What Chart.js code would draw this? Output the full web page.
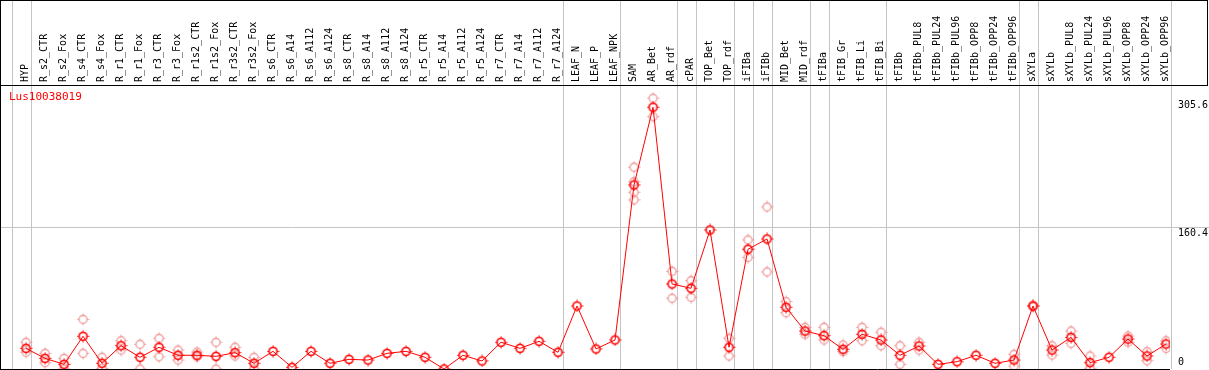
<!DOCTYPE html>
<html>
<head>
<meta charset="utf-8">
<script src="https://cdn.jsdelivr.net/npm/chart.js@4.4.1/dist/chart.umd.min.js"></script>
<style>
  html, body { margin: 0; padding: 0; background: #fff; }
  #wrap { width: 1209px; height: 370px; }
</style>
</head>
<body>
<div id="wrap"><canvas id="chart"></canvas></div>
<script>
const categories = ['HYP', 'R_s2_CTR', 'R_s2_Fox', 'R_s4_CTR', 'R_s4_Fox', 'R_r1_CTR', 'R_r1_Fox',
    'R_r3_CTR', 'R_r3_Fox', 'R_r1s2_CTR', 'R_r1s2_Fox', 'R_r3s2_CTR', 'R_r3s2_Fox',
    'R_s6_CTR', 'R_s6_A14', 'R_s6_A112', 'R_s6_A124', 'R_s8_CTR', 'R_s8_A14', 'R_s8_A112', 'R_s8_A124',
    'R_r5_CTR', 'R_r5_A14', 'R_r5_A112', 'R_r5_A124', 'R_r7_CTR', 'R_r7_A14', 'R_r7_A112', 'R_r7_A124',
    'LEAF_N', 'LEAF_P', 'LEAF_NPK', 'SAM', 'AR_Bet', 'AR_rdf', 'cPAR', 'TOP_Bet', 'TOP_rdf',
    'iFIBa', 'iFIBb', 'MID_Bet', 'MID_rdf', 'tFIBa', 'tFIB_Gr', 'tFIB_Li', 'tFIB_Bi', 'tFIBb',
    'tFIBb_PUL8', 'tFIBb_PUL24', 'tFIBb_PUL96', 'tFIBb_OPP8', 'tFIBb_OPP24', 'tFIBb_OPP96',
    'sXYLa', 'sXYLb', 'sXYLb_PUL8', 'sXYLb_PUL24', 'sXYLb_PUL96', 'sXYLb_OPP8', 'sXYLb_OPP24', 'sXYLb_OPP96'];

// mean expression
const meanValues = [23.5, 12.1, 5.3, 37.2, 6.5, 26.5, 13.3, 24.7, 15.6, 15.6, 14.4, 18.6, 6.5,
    20.1, 1.9, 20.1, 6.5, 11, 10.2, 17.8, 20.1, 13.3, 0, 15.6, 9.1, 30.4, 23.5, 31.5, 19,
    71.7, 22.8, 33, 209.3, 297.7, 96.7, 91.8, 158.1, 24.7, 136.2, 147.9, 70.2, 43.2, 37.9,
    22.4, 39.5, 33, 15.6, 26.2, 5.3, 8.3, 15.6, 6.5, 10.2, 71.7, 21.6, 36, 7.2, 13.3, 34.1, 14.8, 28.4];

// replicates (null = not shown)
const rep1 = [30.4, 17.8, 12.1, 56.5, 13.3, 32.2, 28.1, 34.9, 21.6, 19.3, 30.4, 24.7, 13.3,
    null, null, null, null, null, null, null, null, null, null, null, null, null, null, null, null,
    null, null, null, 229.5, 308, 111.1, 100.5, null, 34.9, 146.8, 184.3, 76.6, 47.4, 47.4,
    27.3, 47.4, 41.8, 26.5, 30.4, null, null, null, null, 16.7, 72.5, 26.5, 43.2, 14.8, null, 37.5, 19.7, 32.2];
const rep2 = [19, 7.2, 0, 17.8, 0.8, 21.6, 0, 14, 10.2, 14, 0, 14.8, 0,
    null, null, null, null, null, null, null, null, null, null, null, null, null, null, null, null,
    null, null, null, 192.3, 287, 80.4, 81.6, null, 14.8, 127, 110.4, 64, 39.5, 33,
    19.7, 32.2, 26.5, 5.3, 21.6, null, null, null, null, 3.4, 71, 15.9, 29.2, 0.8, null, 30.4, 9.4, 23.5];
const rep3 = categories.map(() => null);
rep3[32] = 213;
const rep4 = categories.map(() => null);
rep4[32] = 201;

const yTicks = [0, 160.4, 305.6];
const separators = [-1, 0, 28, 31, 34, 35, 37, 38, 39, 41, 42, 45, 52, 53, 60];
const title = 'Lus10038019';

const FONT = '"DejaVu Sans Mono", monospace';
const GRAY = '#c4c4c4';
const RED = '#ff0000';
const PALE = '#ee9a9a';

function makeMarker(color, lw) {
    const c = document.createElement('canvas');
    c.width = 13; c.height = 13;
    const g = c.getContext('2d');
    g.strokeStyle = color;
    g.lineWidth = lw;
    g.beginPath();
    g.arc(6.5, 6.5, 4, 0, Math.PI * 2);
    g.stroke();
    g.lineWidth = 1;
    g.beginPath();
    g.moveTo(6.5, 0.5); g.lineTo(6.5, 2.5);
    g.moveTo(6.5, 10.5); g.lineTo(6.5, 12.5);
    g.moveTo(0.5, 6.5); g.lineTo(2.5, 6.5);
    g.moveTo(10.5, 6.5); g.lineTo(12.5, 6.5);
    g.stroke();
    return c;
}

const mainMarker = makeMarker(RED, 1.6);
const paleMarker = makeMarker(PALE, 1.3);

function toPoints(arr) {
    return arr.map((v, i) => ({ x: i, y: v }));
}

function repDataset(arr) {
    return {
        data: toPoints(arr),
        showLine: false,
        pointStyle: paleMarker,
        pointRadius: 4,
        spanGaps: false
    };
}

const framePlugin = {
    id: 'frame',
    beforeDraw(chart) {
        const ctx = chart.ctx;
        const x = chart.scales.x;
        ctx.save();
        ctx.strokeStyle = GRAY;
        ctx.lineWidth = 1;
        separators.forEach(s => {
            const px = Math.round(x.getPixelForValue(s + 0.25)) + 0.5;
            ctx.beginPath();
            ctx.moveTo(px, 0);
            ctx.lineTo(px, chart.chartArea.bottom);
            ctx.stroke();
        });
        ctx.restore();
    },
    afterDraw(chart) {
        const ctx = chart.ctx;
        const area = chart.chartArea;
        const y = chart.scales.y;
        const w = chart.width;
        ctx.save();
        ctx.strokeStyle = '#000';
        ctx.lineWidth = 1;
        ctx.beginPath();
        ctx.moveTo(0, 0.5); ctx.lineTo(w - 1, 0.5);
        ctx.moveTo(0, area.top + 0.5); ctx.lineTo(w - 1, area.top + 0.5);
        ctx.moveTo(w - 1.5, 0); ctx.lineTo(w - 1.5, area.top);
        ctx.moveTo(0.5, 0); ctx.lineTo(0.5, area.bottom + 1);
        ctx.moveTo(0, area.bottom + 0.5); ctx.lineTo(area.right, area.bottom + 0.5);
        ctx.stroke();

        ctx.font = '10px ' + FONT;
        ctx.fillStyle = '#000';
        ctx.textAlign = 'left';
        ctx.textBaseline = 'middle';
        y.ticks.forEach(t => {
            const py = Math.min(y.getPixelForValue(t.value) + 5, area.bottom - 7);
            ctx.fillText(String(t.value), area.right + 8, py);
        });

        ctx.fillStyle = RED;
        ctx.font = '11px ' + FONT;
        ctx.fillText(title, 9, area.top + 12);
        ctx.restore();
    }
};

new Chart(document.getElementById('chart'), {
    type: 'line',
    data: {
        datasets: [
            {
                data: toPoints(meanValues),
                borderColor: RED,
                borderWidth: 1,
                pointStyle: mainMarker,
                pointRadius: 4,
                tension: 0
            },
            repDataset(rep1),
            repDataset(rep2),
            repDataset(rep3),
            repDataset(rep4)
        ]
    },
    options: {
        responsive: true,
        maintainAspectRatio: false,
        animation: false,
        events: [],
        layout: { autoPadding: false, padding: { left: 0, right: 0, top: 0, bottom: 1 } },
        plugins: {
            legend: { display: false },
            tooltip: { enabled: false }
        },
        scales: {
            x: {
                type: 'linear',
                position: 'top',
                min: -1.37,
                max: 60.21,
                grid: { display: false, drawTicks: false },
                border: { display: false },
                afterBuildTicks: scale => {
                    scale.ticks = categories.map((c, i) => ({ value: i }));
                },
                afterFit: scale => {
                    scale.height = 85;
                    scale.paddingLeft = 0;
                    scale.paddingRight = 0;
                },
                ticks: {
                    autoSkip: false,
                    maxRotation: 90,
                    minRotation: 90,
                    padding: 3,
                    labelOffset: 11,
                    color: '#000',
                    font: { family: FONT, size: 10 },
                    callback: value => categories[value] ?? ''
                }
            },
            y: {
                position: 'right',
                min: 0,
                max: 323,
                afterBuildTicks: scale => {
                    scale.ticks = yTicks.map(v => ({ value: v }));
                },
                afterFit: scale => {
                    scale.width = 39;
                },
                grid: {
                    drawTicks: true,
                    tickLength: 39,
                    color: c => (c.tick && c.tick.value === 160.4) ? GRAY : 'rgba(0,0,0,0)'
                },
                border: { display: false },
                ticks: { display: false }
            }
        }
    },
    plugins: [framePlugin]
});
</script>
</body>
</html>
